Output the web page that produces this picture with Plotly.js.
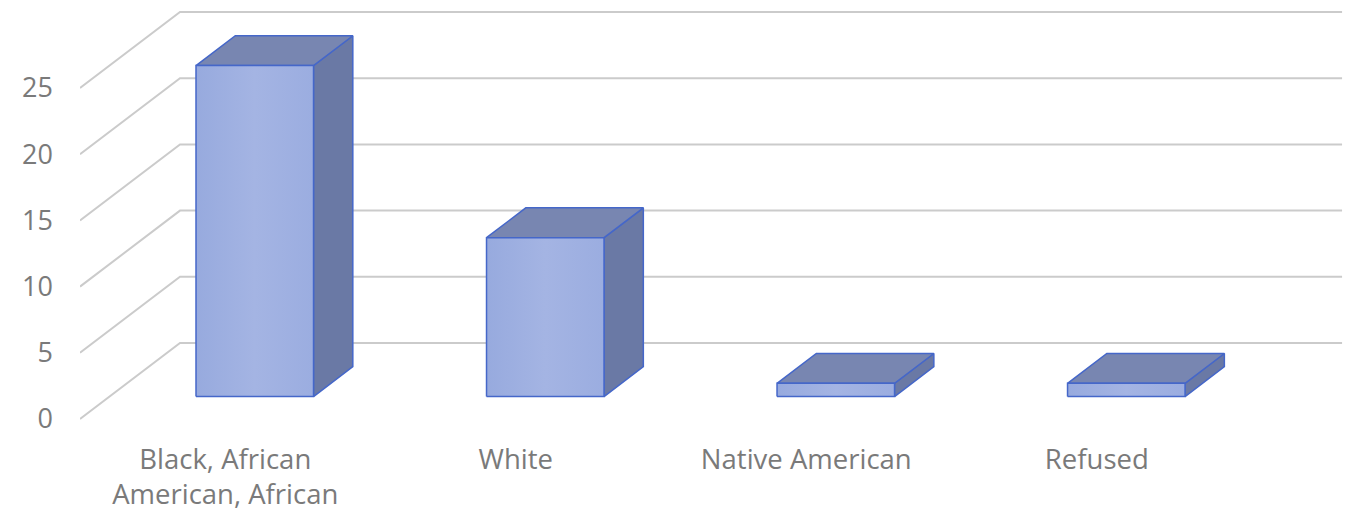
<!DOCTYPE html>
<html>
<head>
<meta charset="utf-8">
<script src="https://cdn.plot.ly/plotly-3.0.1.min.js"></script>
<style>
html,body{margin:0;padding:0;background:#fff;}
#chart{width:1351px;height:516px;}
</style>
</head>
<body>
<div id="chart"></div>
<script>
// ---- data ----
const categories = ['Black, African American, African', 'White', 'Native American', 'Refused'];
const tickLabels = ['Black, African<br>American, African', 'White', 'Native American', 'Refused'];
const values = [25, 12, 1, 1];
const yTicks = [0, 5, 10, 15, 20, 25];

// ---- 3D projection helpers (styling/geometry constants) ----
const DX = 100 / 290.5;   // depth shift in x units for full floor depth
const DY = 76 / 13.24;    // depth shift in y units for full floor depth
const A = 0.295, B = 0.688; // bar front/back depth fractions
const W = 0.4045;          // bar width (x units)
const X0 = -0.5, X1 = categories.length - 0.5;

function pt(x, v, d) { return [x + d * DX, v + d * DY]; }
function poly(points) {
  return { x: points.map(p => p[0]).concat([points[0][0]]), y: points.map(p => p[1]).concat([points[0][1]]) };
}

const traces = [];

// gridlines: side-wall diagonal + back-wall horizontal
yTicks.forEach(v => {
  const p0 = pt(X0, v, 0), p1 = pt(X0, v, 1), p2 = pt(X1, v, 1);
  traces.push({
    type: 'scatter', mode: 'lines', hoverinfo: 'skip', showlegend: false,
    x: [p0[0], p1[0], p2[0]], y: [p0[1], p1[1], p2[1]],
    line: { color: '#cbcbcb', width: 2 }
  });
});

const edge = { color: '#4567c9', width: 1.5 };
values.forEach((v, i) => {
  const xl = i - W / 2, xr = i + W / 2;
  const side = poly([pt(xr, 0, A), pt(xr, 0, B), pt(xr, v, B), pt(xr, v, A)]);
  const top = poly([pt(xl, v, A), pt(xr, v, A), pt(xr, v, B), pt(xl, v, B)]);
  const front = poly([pt(xl, 0, A), pt(xr, 0, A), pt(xr, v, A), pt(xl, v, A)]);
  traces.push(Object.assign({ type: 'scatter', mode: 'lines', fill: 'toself', hoverinfo: 'skip', showlegend: false,
    fillcolor: '#6a79a5', line: edge }, side));
  traces.push(Object.assign({ type: 'scatter', mode: 'lines', fill: 'toself', hoverinfo: 'skip', showlegend: false,
    fillcolor: '#7886b1', line: edge }, top));
  traces.push(Object.assign({ type: 'scatter', mode: 'lines', fill: 'toself', hoverinfo: 'skip', showlegend: false,
    name: categories[i], fillcolor: '#9fb1e2',
    fillgradient: { type: 'horizontal', colorscale: [[0, '#97aade'], [0.5, '#a4b4e3'], [1, '#9bade0']] },
    line: edge }, front));
});

const xfont = { family: '"Open Sans", sans-serif', size: 27.5, color: '#7a7a7a' };
const yfont = { family: '"Open Sans", sans-serif', size: 27, color: '#7a7a7a' };

const layout = {
  width: 1351, height: 516,
  margin: { l: 80, r: 0, t: 0, b: 91, pad: 0 },
  paper_bgcolor: '#ffffff', plot_bgcolor: 'rgba(0,0,0,0)',
  showlegend: false,
  font: xfont,
  xaxis: {
    range: [-0.5, 3.875], showgrid: false, zeroline: false, showline: false,
    tickmode: 'array', tickvals: categories.map((c, i) => i), ticktext: tickLabels,
    ticks: '', tickfont: xfont, ticklabelstandoff: 15, fixedrange: true
  },
  yaxis: {
    range: [-0.453, 31.65], showgrid: false, zeroline: false, showline: false,
    tickmode: 'array', tickvals: yTicks, ticktext: yTicks.map(String),
    ticks: '', tickfont: yfont, ticklabelstandoff: 26, fixedrange: true
  },
  hovermode: false
};

Plotly.newPlot('chart', traces, layout, { displayModeBar: false, staticPlot: true });
</script>
</body>
</html>
